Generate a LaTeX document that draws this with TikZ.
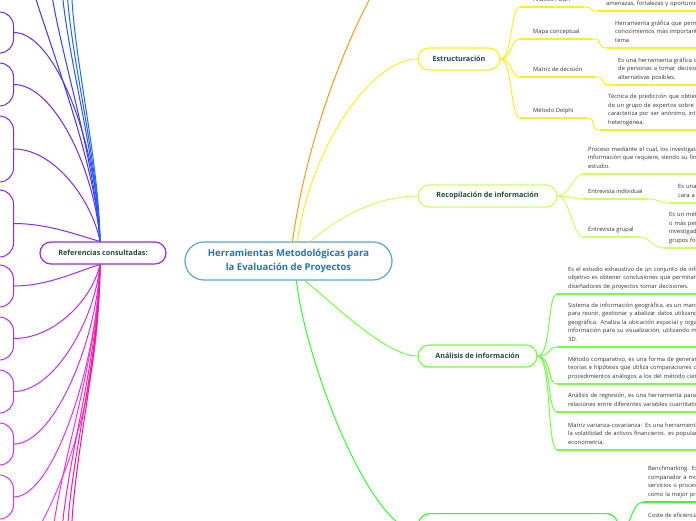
\documentclass[tikz,border=0pt]{standalone}
\usepackage{fontspec}
\setmainfont{Open Sans}
\definecolor{headtxt}{HTML}{1E4D3C}
\definecolor{bodytxt}{HTML}{333333}
\definecolor{centxt}{HTML}{1F78B4}
\definecolor{cenb}{HTML}{5AA5D8}
\definecolor{orng}{HTML}{FF9A1A}
\definecolor{ycol}{HTML}{FFEE22}
\definecolor{rcol}{HTML}{CCFF66}
\definecolor{acol}{HTML}{77FF44}
\definecolor{bcol}{HTML}{33FF33}
\definecolor{refc}{HTML}{9A28F0}
\definecolor{tba}{HTML}{4433FF}
\definecolor{tbb}{HTML}{3344FF}
\definecolor{tbc}{HTML}{2A55FF}
\definecolor{tbd}{HTML}{2262FF}
\definecolor{tbe}{HTML}{1A6CFF}
\definecolor{sa}{HTML}{5A33EE}
\definecolor{sb}{HTML}{6A2FF0}
\definecolor{sc}{HTML}{7B2CF0}
\definecolor{sd}{HTML}{8C2AF0}
\definecolor{se}{HTML}{A22CF2}
\definecolor{sf}{HTML}{B030F2}
\definecolor{sg}{HTML}{BF33F2}
\definecolor{sh}{HTML}{CC33EE}
\definecolor{si}{HTML}{DD33EE}
\definecolor{pba}{HTML}{EE44EE}
\definecolor{pbb}{HTML}{FF33CC}
\definecolor{pbc}{HTML}{FF22AA}
\definecolor{pbd}{HTML}{FF1A99}
\definecolor{pbe}{HTML}{FF1188}
\tikzset{
  head/.style={draw, line width=1.2pt, rounded corners=11pt, fill=white,
    minimum height=22pt, inner xsep=4pt, text=headtxt,
    font=\bfseries\fontsize{7.2}{9}\selectfont},
  lbl/.style={anchor=south west, inner ysep=3pt, inner xsep=#1,
    execute at end node=\strut,
    font=\fontsize{5.8}{8.5}\selectfont, text=bodytxt, align=left},
  desc/.style={lbl=#1, text width=200pt},
  uline/.style={line width=2pt},
  conn/.style={line width=1pt},
  refshape/.style={draw, line width=1pt, rounded corners=14pt, minimum width=100pt, anchor=east},
}
\begin{document}
\begin{tikzpicture}[x=1pt,y=-1pt]
\fill[white] (0,0) rectangle (696,520);
\useasboundingbox (0,0) rectangle (696,520);

% ---------- main nodes ----------
\node[draw=cenb, line width=1.2pt, rounded corners=19pt, fill=white, minimum width=207pt,
  minimum height=38pt, align=center, text=centxt,
  font=\bfseries\fontsize{9.5}{14}\selectfont] (root) at (288.5,261)
  {Herramientas Metodológicas para\\la Evaluación de Proyectos};
\node[head, draw=ycol, minimum width=82pt] (est) at (459,59) {Estructuración};
\node[head, draw=rcol, minimum width=139pt] (rec) at (487.5,196) {Recopilación de información};
\node[head, draw=acol, minimum width=119pt] (ana) at (477.5,356) {Análisis de información};
\node[head, draw=refc, minimum width=126pt] (ref) at (103,253) {Referencias consultadas:};
\node[draw=bcol, line width=1.2pt, rounded corners=11pt, fill=white, minimum width=199pt,
  minimum height=36pt, anchor=north west] (bn) at (418,513) {};
\coordinate (topc) at (380,-20);

% ---------- root connectors ----------
\draw[conn, orng] ([xshift=4pt]root.north) .. controls (305,150) and (340,50) .. (topc);
\draw[conn, ycol] ([xshift=9pt]root.north) .. controls (310,150) and (370,59) .. (est.west);
\draw[conn, rcol] ([xshift=22pt]root.north) .. controls (340,215) and (380,196) .. (rec.west);
\draw[conn, acol] ([xshift=16pt]root.south) .. controls (330,300) and (385,356) .. (ana.west);
\draw[conn, bcol] ([xshift=8pt]root.south) .. controls (305,360) and (370,531) .. (bn.west);

% ---------- Estructuración ----------
\node[lbl=13pt] (e1) at (520,7) {Análisis FODA};
\node[desc=8pt] (e1d) at (598,11) {amenazas, fortalezas y oportunidades de un proyecto.};
\node[lbl=13pt] (e2) at (520,39) {Mapa conceptual};
\node[desc=8pt] (e2d) at (607,48) {Herramienta gráfica que permite representar los\\conocimientos más importantes sobre un\\tema};
\node[lbl=13pt] (e3) at (520,77) {Matriz de decisión};
\node[desc=8pt] (e3d) at (610,85) {Es una herramienta gráfica que ayuda a un grupo\\de personas a tomar decisiones entre varias\\alternativas posibles.};
\node[lbl=13pt] (e4) at (520,118) {Método Delphi};
\node[desc=8pt] (e4d) at (600,130) {Técnica de predicción que obtiene información\\de un grupo de expertos sobre un tema. Se\\caracteriza por ser anónimo, interactivo y\\heterogénea.};
\foreach \n in {e1,e2,e3,e4}{
  \draw[conn, ycol] (est.east) .. controls +(12,0) and +(-10,0) .. (\n.south west);
  \draw[uline, ycol] (\n.south west) -- (\n.south east);
  \draw[conn, ycol] (\n.south east) .. controls +(12,0) and +(-12,0) .. (\n d.south west);
  \draw[uline, ycol] (\n d.south west) -- (\n d.south east);
}

% ---------- Recopilación ----------
\node[desc=5pt] (r0) at (583,174) {Proceso mediante el cual, los investigadores obtienen la\\información que requiere, siendo su fin el objeto de\\estudio.};
\node[lbl=5pt] (r1) at (583,199) {Entrevista individual};
\node[desc=8pt] (r1d) at (670,203) {Es una conversación\\cara a cara.};
\node[lbl=5pt] (r2) at (583,237) {Entrevista grupal};
\node[desc=5pt] (r2d) at (664,248) {Es un método en el que dos\\o más personas\\investigadoras\\grupos focales.};
\draw[conn, rcol] (rec.east) .. controls +(12,0) and +(-10,0) .. (r0.south west);
\draw[uline, rcol] (r0.south west) -- (r0.south east);
\foreach \n in {r1,r2}{
  \draw[conn, rcol] (rec.east) .. controls +(12,0) and +(-10,0) .. (\n.south west);
  \draw[uline, rcol] (\n.south west) -- (\n.south east);
  \draw[conn, rcol] (\n.south east) .. controls +(12,0) and +(-12,0) .. (\n d.south west);
  \draw[uline, rcol] (\n d.south west) -- (\n d.south east);
}

% ---------- Análisis ----------
\node[desc=11pt] (a1) at (557,294) {Es el estudio exhaustivo de un conjunto de información cuyo\\objetivo es obtener conclusiones que permitan a los\\diseñadores de proyectos tomar decisiones.};
\node[desc=11pt] (a2) at (557,347) {Sistema de información geográfica, es un marco de trabajo\\para reunir, gestionar y abalizar datos utilizando la ciencia\\geográfica. Analiza la ubicación espacial y organiza capas de\\información para su visualización, utilizando mapas y escenas\\3D.};
\node[desc=11pt] (a3) at (557,384) {Método comparativo, es una forma de generar\\teorías e hipótesis que utiliza comparaciones con\\procedimientos análogos a los del método científico.};
\node[desc=11pt] (a4) at (557,412) {Análisis de regresión, es una herramienta para estudiar\\relaciones entre diferentes variables cuantitativas.};
\node[desc=11pt] (a5) at (557,450) {Matriz varianza-covarianza: Es una herramienta para medir\\la volatilidad de activos financieros. es popular en\\econometría.};
\foreach \n in {a1,a2,a3,a4,a5}{
  \draw[conn, acol] (ana.east) .. controls +(14,0) and +(-10,0) .. (\n.south west);
  \draw[uline, acol] (\n.south west) -- (\n.south east);
}

% ---------- bottom branch ----------
\node[desc=5pt] (b1) at (643,502) {Benchmarking. Es un proceso\\comparador a modo de\\servicios o procesos\\como la mejor práctica.};
\node[lbl=5pt] (b2) at (643,523) {Coste de eficiencia};
\foreach \n in {b1,b2}{
  \draw[conn, bcol] (bn.east) .. controls +(13,0) and +(-12,0) .. (\n.south west);
  \draw[uline, bcol] (\n.south west) -- (\n.south east);
}

% ---------- references (left) ----------
\node[refshape, draw=sa, minimum height=41pt] (s1) at (14,32.5) {};
\node[refshape, draw=sb, minimum height=43pt] (s2) at (14,84.5) {};
\node[refshape, draw=sc, minimum height=66pt] (s3) at (14,149) {};
\node[refshape, draw=sd, minimum height=67pt] (s4) at (14,223.5) {};
\node[refshape, draw=se, minimum height=42pt] (s5) at (14,286) {};
\node[refshape, draw=sf, minimum height=43pt] (s6) at (14,338.5) {};
\node[refshape, draw=sg, minimum height=43pt] (s7) at (14,391.5) {};
\node[refshape, draw=sh, minimum height=42pt] (s8) at (14,444) {};
\node[refshape, draw=si, minimum height=44pt] (s9) at (14,497) {};

\draw[conn, sa] (s1.east) .. controls +(40,0) and (97,140) .. ([xshift=-3pt]ref.north);
\draw[conn, sb] (s2.east) .. controls +(40,0) and (95,170) .. ([xshift=-3pt]ref.north);
\draw[conn, sc] (s3.east) .. controls +(40,0) and (92,200) .. ([xshift=-3pt]ref.north);
\draw[conn, sd] (s4.east) .. controls +(35,0) and (80,236) .. ([xshift=-3pt]ref.north);
\draw[conn, se] (s5.east) .. controls +(35,0) and (80,270) .. ([xshift=-3pt]ref.south);
\draw[conn, sf] (s6.east) .. controls +(40,0) and (92,300) .. ([xshift=-3pt]ref.south);
\draw[conn, sg] (s7.east) .. controls +(40,0) and (95,320) .. ([xshift=-3pt]ref.south);
\draw[conn, sh] (s8.east) .. controls +(40,0) and (97,340) .. ([xshift=-3pt]ref.south);
\draw[conn, si] (s9.east) .. controls +(40,0) and (98,360) .. ([xshift=-3pt]ref.south);

\coordinate (t1) at (33,-10);
\coordinate (t2) at (51,-10);
\coordinate (t3) at (62,-10);
\coordinate (t4) at (67,-10);
\coordinate (t5) at (71.5,-10);
\draw[conn, tba] ([xshift=-3pt]ref.north) .. controls (97,170) and (55,60) .. (t1);
\draw[conn, tbb] ([xshift=-3pt]ref.north) .. controls (95,160) and (62,60) .. (t2);
\draw[conn, tbc] ([xshift=-3pt]ref.north) .. controls (97,160) and (68,60) .. (t3);
\draw[conn, tbd] ([xshift=-3pt]ref.north) .. controls (98,160) and (71,60) .. (t4);
\draw[conn, tbe] ([xshift=-3pt]ref.north) .. controls (99,160) and (74,60) .. (t5);

\coordinate (u1) at (38,530);
\coordinate (u2) at (53,530);
\coordinate (u3) at (62,530);
\coordinate (u4) at (67.5,530);
\coordinate (u5) at (71.5,530);
\draw[conn, pba] ([xshift=-3pt]ref.south) .. controls (99,380) and (75,460) .. (u1);
\draw[conn, pbb] ([xshift=-3pt]ref.south) .. controls (97,360) and (64,450) .. (u2);
\draw[conn, pbc] ([xshift=-3pt]ref.south) .. controls (98,360) and (69,450) .. (u3);
\draw[conn, pbd] ([xshift=-3pt]ref.south) .. controls (99,360) and (72,450) .. (u4);
\draw[conn, pbe] ([xshift=-3pt]ref.south) .. controls (99,360) and (75,450) .. (u5);
\end{tikzpicture}
\end{document}
